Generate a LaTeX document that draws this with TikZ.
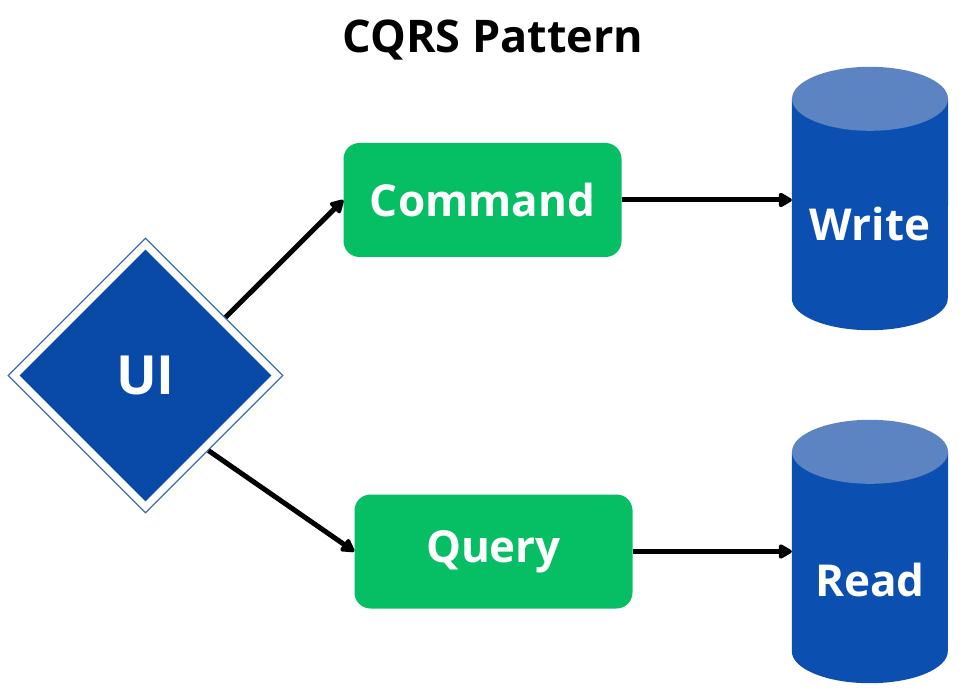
\documentclass[tikz,border=0pt]{standalone}
\usepackage{fontspec}
\setmainfont{Open Sans}
\definecolor{BoxGreen}{RGB}{6,191,101}
\definecolor{UiBlue}{RGB}{9,74,168}
\definecolor{UiEdge}{RGB}{62,108,178}
\definecolor{DbBlue}{RGB}{11,79,176}
\definecolor{DbTop}{RGB}{92,132,194}
\usetikzlibrary{arrows.meta,shapes.geometric,positioning}
\tikzset{
	stepbox/.style={
		rectangle,rounded corners=16pt,fill=BoxGreen,
		minimum width=278pt,minimum height=114pt,inner sep=0pt},
	uidia/.style={
		diamond,fill=UiBlue,minimum width=252pt,minimum height=252pt,inner sep=0pt},
	uiframe/.style={
		diamond,draw=UiEdge,line width=1.2pt,minimum width=275pt,minimum height=275pt,inner sep=0pt},
	dbcyl/.style={
		rectangle,minimum width=156pt,minimum height=263pt,inner sep=0pt},
	flow/.style={line width=5pt,-{Triangle[length=15pt,width=16pt,round]}}
}
\def\boxf#1{\textcolor{white}{\fontsize{44}{48}\selectfont\bfseries #1}}
% cylinder drawn over a named node
\def\dbdraw#1{
	\fill[DbBlue] ([yshift=-32pt]#1.north west) -- ([yshift=32pt]#1.south west)
		arc[start angle=180,end angle=360,x radius=78pt,y radius=32pt]
		-- ([yshift=-32pt]#1.north east) -- cycle;
	\fill[DbTop] ([yshift=-32pt]#1.north) ellipse[x radius=78pt,y radius=32pt];
}

\begin{document}
\begin{tikzpicture}[x=1pt,y=-1pt]
	\useasboundingbox (0,0) rectangle (976,692);
	\node (title) at (493,40) {\fontsize{45}{50}\selectfont\bfseries CQRS Pattern};
	% UI diamond
	\node[uiframe] (uiout) at (145.5,375.5) {};
	\node[uidia] (ui) at (uiout.center) {\textcolor{white}{\fontsize{54}{58}\selectfont\bfseries UI}};
	% command and query
	\node[stepbox] (command) at (482.5,200) {\boxf{Command}};
	\node[stepbox] (query) at (493.5,551.5) {\boxf{Query}};
	% stores
	\node[dbcyl] (write) at (870,198.5) {};
	\node[dbcyl] (read) at (870,551.5) {};
	\dbdraw{write}
	\dbdraw{read}
	\node (writetxt) at ([yshift=-26pt]write.center) {\boxf{Write}};
	\node (readtxt) at ([yshift=-28pt]read.center) {\boxf{Read}};
	\draw[flow] (uiout.36) -- (command.west);
	\draw[flow] (uiout.-50) -- (query.west);
	\draw[flow] (command.east) -- (command.east -| write.west);
	\draw[flow] (query.east) -- (query.east -| read.west);
\end{tikzpicture}
\end{document}
